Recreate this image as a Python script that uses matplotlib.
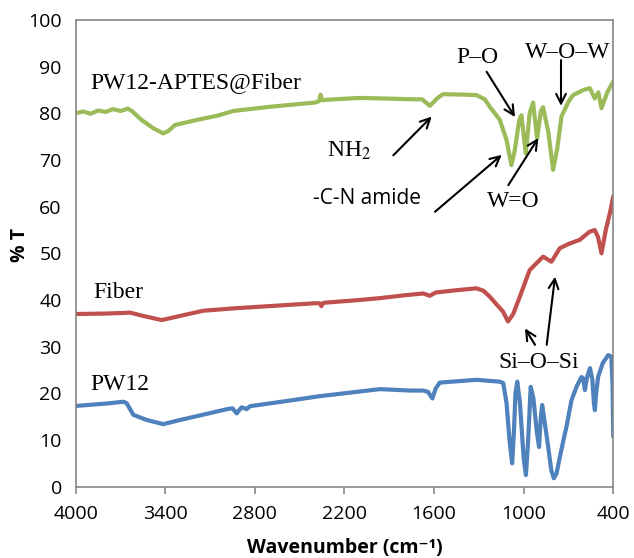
import numpy as np
import matplotlib
matplotlib.use("Agg")
import matplotlib.pyplot as plt

# FTIR spectra (wavenumber in cm-1, %T)
green_x = [4000, 3950, 3900, 3850, 3800, 3750, 3700, 3650, 3620, 3560,
           3480, 3414, 3380, 3335, 3200, 3050, 2945, 2700, 2400, 2370,
           2360, 2350, 2320, 2100, 1963, 1740, 1680, 1628, 1580, 1541,
           1400, 1316, 1260, 1227, 1160, 1115, 1082, 1060, 1030, 1015,
           986, 960, 937, 910, 885, 870, 835, 803, 775, 747,
           700, 669, 600, 557, 524, 500, 479, 440, 400]
green_y = [80.0, 80.4, 79.9, 80.6, 80.3, 80.9, 80.5, 81.0, 80.4, 78.6,
           76.8, 75.7, 76.2, 77.5, 78.5, 79.5, 80.5, 81.4, 82.3, 82.6,
           84.0, 82.8, 82.9, 83.3, 83.2, 83.0, 83.0, 81.6, 83.2, 84.1,
           84.0, 83.9, 83.0, 81.4, 78.6, 74.3, 68.9, 72.0, 78.5, 79.6,
           71.4, 80.0, 82.3, 74.6, 80.5, 81.3, 76.0, 67.9, 72.5, 79.3,
           82.5, 83.9, 85.0, 85.4, 83.2, 84.5, 81.1, 84.5, 86.8]

red_x = [4000, 3800, 3700, 3636, 3550, 3424, 3300, 3146, 2945, 2700,
         2400, 2365, 2355, 2340, 2100, 1963, 1800, 1673, 1628, 1590,
         1450, 1316, 1270, 1227, 1138, 1105, 1070, 1026, 960, 870,
         814, 758, 700, 624, 560, 524, 502, 479, 450, 420, 400]
red_y = [37.0, 37.1, 37.2, 37.3, 36.6, 35.7, 36.6, 37.7, 38.2, 38.7,
         39.3, 39.3, 38.7, 39.4, 40.0, 40.4, 41.0, 41.4, 40.9, 41.6,
         42.1, 42.5, 42.0, 40.7, 37.5, 35.4, 37.0, 40.7, 46.4, 49.3,
         48.2, 51.1, 52.0, 52.9, 54.6, 55.0, 53.5, 50.0, 55.0, 59.0, 62.2]

blue_x = [4000, 3800, 3681, 3659, 3614, 3525, 3414, 3300, 3150, 2989,
          2950, 2922, 2900, 2889, 2870, 2855, 2835, 2822, 2600, 2365,
          1963, 1762, 1673, 1640, 1611, 1590, 1562, 1316, 1160, 1137,
          1115, 1095, 1077, 1065, 1055, 1043, 1025, 1000, 985, 970,
          953, 935, 913, 897, 885, 876, 860, 838, 815, 798,
          780, 760, 730, 713, 680, 646, 613, 601, 590, 575,
          556, 540, 530, 523, 515, 501, 470, 434, 413, 405, 400]
blue_y = [17.3, 17.8, 18.2, 17.9, 15.4, 14.3, 13.4, 14.3, 15.4, 16.6,
          16.8, 15.7, 16.6, 17.0, 16.8, 16.6, 17.2, 17.3, 18.3, 19.4,
          20.9, 20.6, 20.6, 20.3, 18.9, 21.0, 22.3, 22.9, 22.5, 22.2,
          18.0, 10.0, 5.0, 12.0, 20.0, 22.5, 18.0, 6.0, 2.5, 10.0,
          21.4, 19.0, 12.0, 8.5, 15.0, 17.5, 14.0, 9.0, 3.5, 1.8,
          2.8, 6.0, 10.5, 12.9, 18.5, 21.4, 23.5, 23.2, 20.7, 23.5,
          25.4, 23.0, 18.0, 16.4, 20.0, 23.6, 26.5, 28.2, 27.9, 22.0, 10.7]

x_ticks = [4000, 3400, 2800, 2200, 1600, 1000, 400]
y_ticks = list(range(0, 101, 10))

plt.rcParams['mathtext.fontset'] = 'stix'
serif = 'Liberation Serif'
sans = ['Open Sans', 'DejaVu Sans']

fig = plt.figure(figsize=(6.34, 5.58), dpi=100)
ax = fig.add_axes([0.1194, 0.1278, 0.8479, 0.8364])

ax.plot(green_x, green_y, color='#9BBB59', lw=3.0, solid_capstyle='round', solid_joinstyle='round')
ax.plot(red_x, red_y, color='#C0504D', lw=3.0, solid_capstyle='round', solid_joinstyle='round')
ax.plot(blue_x, blue_y, color='#4F81BD', lw=3.0, solid_capstyle='round', solid_joinstyle='round')

ax.set_xlim(4000, 400)
ax.set_ylim(0, 100)
ax.set_xticks(x_ticks)
ax.set_yticks(y_ticks)
for s in ax.spines.values():
    s.set_color('#868686')
    s.set_linewidth(1.2)
ax.tick_params(axis='x', direction='out', length=5, width=1.2, color='#868686', pad=8)
ax.tick_params(axis='y', length=0, pad=10)
for lab in ax.get_xticklabels() + ax.get_yticklabels():
    lab.set_family(sans)
    lab.set_fontsize(14)

fig.text(20 / 634, 1 - 245 / 558, '% T', rotation=90, ha='center', va='center',
         family=sans, fontsize=14, weight='bold')
fig.text(345 / 634, 1 - 548 / 558, 'Wavenumber (cm⁻¹)', ha='center', va='center',
         family=sans, fontsize=14, weight='bold')

# series names
ax.text(3904, 85.4, 'PW12-APTES@Fiber', family=serif, fontsize=17, va='baseline')
ax.text(3884, 40.4, 'Fiber', family=serif, fontsize=17, va='baseline')
ax.text(3904, 20.7, 'PW12', family=serif, fontsize=17, va='baseline')

# band labels
ax.text(2317, 70.8, 'NH$_2$', family=serif, fontsize=17, va='baseline')
ax.text(2411, 60.5, '-C-N amide', family=sans, fontsize=15, va='baseline')
ax.text(1453, 90.8, 'P–O', family=serif, fontsize=17, va='baseline')
ax.text(991, 91.9, 'W–O–W', family=serif, fontsize=17, va='baseline')
ax.text(1249, 59.9, 'W=O', family=serif, fontsize=17, va='baseline')
ax.text(1172, 25.4, 'Si–O–Si', family=serif, fontsize=17, va='baseline')

arrows = [
    ((1873, 71.0), (1616, 79.3)),
    ((1594, 58.9), (1147, 71.1)),
    ((1103, 64.6), (902, 74.7)),
    ((1248, 88.9), (1058, 79.2)),
    ((750, 91.4), (750, 81.6)),
    ((924, 30.4), (991, 33.9)),
    ((846, 30.4), (790, 45.0)),
]
for tail, head in arrows:
    ax.annotate('', xy=head, xytext=tail,
                arrowprops=dict(arrowstyle='->,head_length=0.7,head_width=0.35',
                                lw=1.5, color='black', shrinkA=0, shrinkB=0))

fig.savefig('out.png', dpi=100)
